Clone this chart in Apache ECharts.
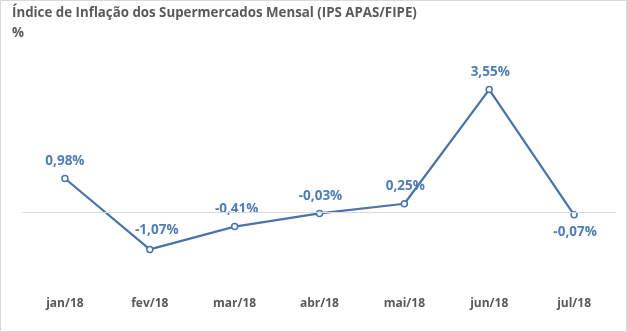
<!DOCTYPE html>
<html><head><meta charset="utf-8">
<script src="https://cdn.jsdelivr.net/npm/echarts@6/dist/echarts.min.js"></script>
<style>html,body{margin:0;padding:0;background:#fff}#c{width:627px;height:332px}</style>
</head><body><div id="c"></div>
<script>
const categories = ['jan/18','fev/18','mar/18','abr/18','mai/18','jun/18','jul/18'];
const values = [0.98, -1.07, -0.41, -0.03, 0.25, 3.55, -0.07];
const labelPositions = ['top','top','top','top','top','top','bottom'];
const labelShiftX = [0, 7, 2, 1, 1, 1, 1];
const titleText = 'Índice de Inflação dos Supermercados Mensal (IPS APAS/FIPE)';
const unitText = '%';

const chart = echarts.init(document.getElementById('c'), null, {renderer:'canvas'});
const font = '"Open Sans", "Noto Sans", sans-serif';
chart.setOption({
  animation:false,
  backgroundColor:'#fff',
  textStyle:{fontFamily:font},
  graphic:[
    {type:'rect', shape:{x:0.5,y:0.5,width:626,height:331}, style:{fill:'none',stroke:'#d9d9d9',lineWidth:1}, silent:true},
    {type:'text', left:12, top:7, style:{text:titleText, font:'bold 13.3px '+font, fill:'#595959'}},
    {type:'text', left:12, top:27, style:{text:unitText, font:'bold 13.3px '+font, fill:'#595959'}}
  ],
  grid:{left:22.5, right:10.5, top:74, bottom:50.4, containLabel:false},
  xAxis:{type:'category', data:categories, boundaryGap:true,
    axisLine:{show:false}, axisTick:{show:false},
    axisLabel:{color:'#595959', fontWeight:'bold', fontSize:12, margin:16, fontFamily:font}},
  yAxis:{type:'value', min:-2, max:4, interval:2, show:false, splitLine:{show:false}},
  series:[{
    type:'line', data:values.map((v,i)=>({value:v, label:{position:labelPositions[i], offset:[labelShiftX[i], i===1?-2:0]}})),
    symbol:'circle', symbolSize:6,
    lineStyle:{color:'#4a74a9', width:2.25},
    itemStyle:{color:'#fff', borderColor:'#4a74a9', borderWidth:1.5},
    label:{show:true, color:'#4f7db5', fontWeight:'bold', fontSize:13.5, fontFamily:font, distance:7,
      formatter:p=>p.value.toFixed(2).replace('.',',')+'%'},
    markLine:{silent:true, symbol:'none', label:{show:false},
      lineStyle:{color:'#d9d9d9', width:1, type:'solid'}, data:[{yAxis:0}]},
    z:3
  }]
});
</script></body></html>
